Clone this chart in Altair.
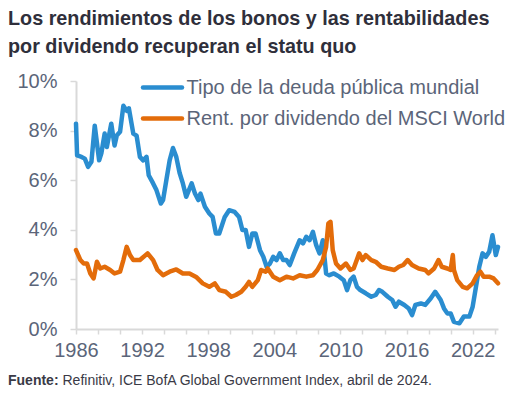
import altair as alt
import pandas as pd

# Global government bond yield (%)
bond_years = [1986.0, 1986.1, 1986.5, 1986.8, 1987.1, 1987.4, 1987.7, 1988.1, 1988.3, 1988.6,
              1988.8, 1989.2, 1989.5, 1989.7, 1990.0, 1990.3, 1990.6, 1990.8, 1991.2, 1991.5,
              1991.8, 1992.1, 1992.4, 1992.6, 1993.0, 1993.3, 1993.7, 1993.9, 1994.2, 1994.5,
              1994.8, 1995.1, 1995.4, 1995.7, 1996.0, 1996.5, 1996.8, 1997.1, 1997.3, 1997.7,
              1998.1, 1998.4, 1998.7, 1999.0, 1999.5, 1999.9, 2000.4, 2000.8, 2001.1, 2001.4,
              2001.7, 2002.0, 2002.3, 2002.7, 2003.0, 2003.3, 2003.6, 2003.9, 2004.2, 2004.5,
              2004.8, 2005.1, 2005.4, 2005.8, 2006.3, 2006.6, 2006.9, 2007.2, 2007.5, 2007.8,
              2008.1, 2008.4, 2008.7, 2009.0, 2009.4, 2009.9, 2010.3, 2010.6, 2010.9, 2011.2,
              2011.5, 2011.8, 2012.3, 2012.8, 2013.2, 2013.5, 2013.8, 2014.3, 2014.7, 2015.0,
              2015.3, 2015.8, 2016.2, 2016.5, 2016.8, 2017.3, 2017.7, 2018.2, 2018.6, 2019.1,
              2019.4, 2019.7, 2020.0, 2020.3, 2020.8, 2021.2, 2021.7, 2022.0, 2022.3, 2022.6,
              2022.9, 2023.2, 2023.5, 2023.8, 2024.1, 2024.3]
bond_values = [8.28, 7.0, 6.94, 6.87, 6.54, 6.74, 8.2, 6.8, 7.08, 7.88,
               7.34, 8.28, 7.4, 7.8, 7.95, 9.0, 8.8, 8.9, 7.88, 7.8,
               6.94, 6.8, 6.94, 6.2, 5.87, 5.6, 5.06, 5.2, 6.0, 6.8,
               7.3, 6.94, 6.3, 5.87, 5.33, 5.87, 5.46, 5.2, 5.46, 4.93,
               4.66, 4.52, 3.85, 3.85, 4.52, 4.79, 4.72, 4.52, 3.99, 3.99,
               3.31, 3.85, 3.85, 3.18, 2.91, 2.51, 2.64, 2.91, 2.78, 3.05,
               2.78, 2.78, 2.58, 3.05, 3.58, 3.45, 3.72, 3.58, 3.92, 3.38,
               3.05, 3.58, 2.24, 2.17, 2.24, 2.11, 1.97, 1.57, 1.97, 2.11,
               1.70, 1.57, 1.44, 1.30, 1.37, 1.57, 1.50, 1.30, 1.17, 0.90,
               1.10, 0.97, 0.83, 0.56, 0.97, 1.03, 0.97, 1.24, 1.50, 1.17,
               0.83, 0.63, 0.63, 0.29, 0.23, 0.50, 0.50, 0.90, 1.70, 2.51,
               3.05, 2.91, 3.11, 3.78, 2.98, 3.31]

# MSCI World dividend yield (%)
div_years = [1986.0, 1986.4, 1986.7, 1987.0, 1987.3, 1987.6, 1987.9, 1988.2, 1988.6, 1989.1,
             1989.5, 1990.0, 1990.3, 1990.6, 1990.9, 1991.2, 1991.8, 1992.5, 1993.0, 1993.4,
             1993.9, 1994.5, 1995.1, 1995.7, 1996.3, 1996.9, 1997.5, 1998.1, 1998.6, 1999.0,
             1999.6, 2000.1, 2000.5, 2001.0, 2001.4, 2001.7, 2002.0, 2002.5, 2002.8, 2003.2,
             2003.4, 2003.9, 2004.5, 2005.1, 2005.7, 2006.3, 2006.9, 2007.5, 2007.9, 2008.4,
             2008.7, 2008.9, 2009.1, 2009.3, 2009.6, 2010.0, 2010.5, 2010.9, 2011.2, 2011.7,
             2012.0, 2012.3, 2012.8, 2013.2, 2013.7, 2014.3, 2014.9, 2015.3, 2015.7, 2016.1,
             2016.5, 2017.1, 2017.7, 2018.0, 2018.5, 2018.9, 2019.2, 2019.7, 2020.0, 2020.2,
             2020.3, 2020.6, 2021.1, 2021.5, 2022.0, 2022.4, 2022.7, 2023.0, 2023.5, 2023.9,
             2024.3]
div_values = [3.18, 2.78, 2.64, 2.64, 2.24, 2.04, 2.71, 2.44, 2.51, 2.38,
              2.24, 2.31, 2.78, 3.31, 2.98, 2.78, 2.78, 3.05, 2.78, 2.38,
              2.17, 2.31, 2.40, 2.24, 2.24, 2.10, 1.84, 1.70, 1.84, 1.57,
              1.50, 1.30, 1.37, 1.50, 1.70, 1.90, 1.70, 1.97, 2.38, 2.31,
              2.44, 2.11, 1.97, 2.11, 2.04, 2.17, 2.11, 2.17, 2.38, 2.78,
              3.31, 4.25, 4.32, 3.18, 2.64, 2.44, 2.64, 2.38, 2.44, 3.05,
              2.78, 2.98, 2.78, 2.71, 2.51, 2.44, 2.38, 2.51, 2.58, 2.78,
              2.58, 2.44, 2.38, 2.24, 2.44, 2.78, 2.51, 2.44, 2.38, 2.98,
              2.38, 1.97, 1.70, 1.64, 1.84, 2.17, 2.31, 2.11, 2.11, 2.04,
              1.84]

series_names = ["Tipo de la deuda pública mundial", "Rent. por dividendo del MSCI World"]
series_colors = ["#2a8dd0", "#e36c0a"]
x_ticks = list(range(1986, 2025, 2))
y_ticks = [0, 2, 4, 6, 8, 10]

title_lines = ["Los rendimientos de los bonos y las rentabilidades",
               "por dividendo recuperan el statu quo"]
source_bold = "Fuente:"
source_text = "Refinitiv, ICE BofA Global Government Index, abril de 2024."

df = pd.concat([
    pd.DataFrame({"year": bond_years, "value": bond_values, "series": series_names[0], "order": 0}),
    pd.DataFrame({"year": div_years, "value": div_values, "series": series_names[1], "order": 1}),
])

FONT = "Liberation Sans"
GRAY = "#5b6579"
DARK = "#2f2f3b"

lines = alt.Chart(df).mark_line(strokeWidth=4.5, strokeJoin="round", strokeCap="round").encode(
    x=alt.X("year:Q",
            scale=alt.Scale(domain=[1986, 2024.3], nice=False, zero=False),
            axis=alt.Axis(values=x_ticks, format="d", title=None, grid=False,
                          labelExpr="(datum.value - 1986) % 6 == 0 ? datum.label : ''",
                          labelOverlap=False, labelFlush=False,
                          tickSize=5, labelPadding=6)),
    y=alt.Y("value:Q",
            scale=alt.Scale(domain=[0, 10], nice=False),
            axis=alt.Axis(values=y_ticks, title=None, grid=False,
                          labelExpr="datum.value + '%'",
                          tickSize=6, labelPadding=13)),
    color=alt.Color("series:N",
                    scale=alt.Scale(domain=series_names, range=series_colors),
                    legend=None),
    order="order:Q",
    detail="series:N",
)

def text_layer(txt, x, y, size, weight="normal", color=DARK):
    return alt.Chart(pd.DataFrame({"t": [txt]})).mark_text(
        align="left", baseline="middle", font=FONT, fontSize=size,
        fontWeight=weight, color=color
    ).encode(text="t:N", x=alt.value(x), y=alt.value(y))

def legend_swatch(color, y):
    return alt.Chart(pd.DataFrame({"c": [color]})).mark_rule(
        strokeWidth=4.5, strokeCap="round", color=color
    ).encode(x=alt.value(67), x2=alt.value(106), y=alt.value(y))

leg = [
    legend_swatch(series_colors[0], 6.6),
    text_layer(series_names[0], 110.5, 7, 20, "normal", GRAY),
    legend_swatch(series_colors[1], 37.6),
    text_layer(series_names[1], 110.5, 38, 20, "normal", GRAY),
]

t1 = text_layer(title_lines[0], -68, -62.5, 19.8, "bold")
t2 = text_layer(title_lines[1], -68, -34.5, 19.8, "bold")
s1 = text_layer(source_bold, -68, 299.5, 14, "bold", "#3a3a46")
s2 = text_layer(source_text, -13.5, 299.5, 14, "normal", "#3a3a46")

chart = alt.layer(lines, *leg, t1, t2, s1, s2).properties(
    width=422, height=248,
    autosize=alt.AutoSizeParams(type="none"),
    padding={"left": 68, "top": 73, "right": 16, "bottom": 60},
).configure_view(stroke=None).configure_axis(
    domainColor="#d9d9d9", domainWidth=2, tickColor="#d9d9d9", tickWidth=1.5,
    labelFont=FONT, labelFontSize=20, labelColor=GRAY,
)

chart.save("out.html", embed_options={"renderer": "svg", "actions": False})
